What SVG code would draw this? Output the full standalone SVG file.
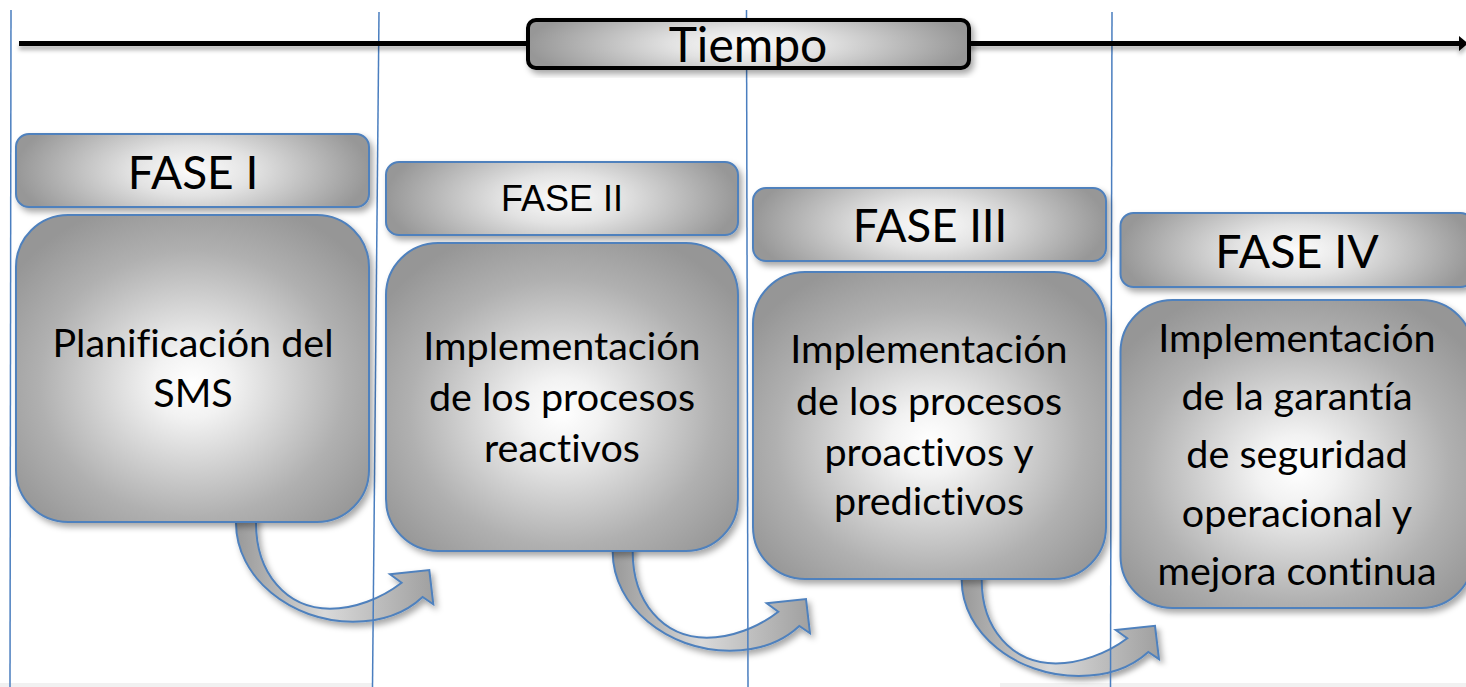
<svg xmlns="http://www.w3.org/2000/svg" width="1466" height="687" viewBox="0 0 1466 687">
<style>
.vline{stroke:#4a7ebf;stroke-width:1.5;fill:none}
.hdr{fill:url(#hdrGrad);stroke:#4f81bd;stroke-width:2;filter:url(#shadow)}
.body{fill:url(#bodyGrad);stroke:#4f81bd;stroke-width:2;filter:url(#shadow)}
.arw{fill:url(#arrowGrad);stroke:#4f81bd;stroke-width:2;stroke-linejoin:miter;filter:url(#shadow)}
.t{font-family:Lato,"Open Sans","Liberation Sans",sans-serif;fill:#000;text-anchor:middle;font-variant-ligatures:none;font-feature-settings:"liga" 0,"clig" 0}
.tb{font-size:39.5px}
.ta{font-family:"Liberation Sans",Arial,sans-serif;fill:#000;text-anchor:middle;font-size:36px}
</style>
<defs>
<filter id="shadow" x="-10%" y="-10%" width="125%" height="130%">
<feDropShadow dx="3" dy="4" stdDeviation="3" flood-color="#000" flood-opacity="0.35"/>
</filter>
<filter id="lshadow" filterUnits="userSpaceOnUse" x="0" y="30" width="1466" height="30">
<feDropShadow dx="0" dy="4" stdDeviation="2" flood-color="#000" flood-opacity="0.3"/>
</filter>
<radialGradient id="hdrGrad" cx="0.5" cy="0.5" r="0.5" gradientTransform="translate(0.5,0.5) scale(1,2) translate(-0.5,-0.5)">
<stop offset="0" stop-color="#fcfcfc"/>
<stop offset="0.35" stop-color="#e2e2e2"/>
<stop offset="1" stop-color="#979797"/>
</radialGradient>
<radialGradient id="bodyGrad" cx="0.5" cy="0.55" r="0.62">
<stop offset="0" stop-color="#ffffff"/>
<stop offset="0.18" stop-color="#f2f2f2"/>
<stop offset="0.7" stop-color="#b0b0b0"/>
<stop offset="1" stop-color="#969696"/>
</radialGradient>
<linearGradient id="arrowGrad" x1="0" y1="0" x2="1" y2="0">
<stop offset="0" stop-color="#999999"/>
<stop offset="0.45" stop-color="#d9d9d9"/>
<stop offset="1" stop-color="#a0a0a0"/>
</linearGradient>
<path id="curvArrow" d="M 0,-12 L 0,0 C 0,55 55,99 117,99 C 150,99 172,88 186.6,74.3 L 197.3,81.6 L 193.3,47.3 L 154,51.6 L 165.6,60 C 145,76 118,86 94,86 C 50,86 20,50 20,0 L 20,-12 Z"/>
</defs>

<rect x="0" y="0" width="1466" height="687" fill="#ffffff"/>
<rect x="0" y="683" width="372" height="4" fill="#f1f1f1"/>
<rect x="1000" y="683" width="466" height="4" fill="#f1f1f1"/>

<g id="connectors">
<use href="#curvArrow" class="arw" transform="translate(236,522.7)"/>
<use href="#curvArrow" class="arw" transform="translate(612.7,551.7)"/>
<use href="#curvArrow" class="arw" transform="translate(961.7,580) scale(1,0.97)"/>
</g>

<g id="lanes">
<line class="vline" x1="11" y1="10" x2="10" y2="687"/>
<line class="vline" x1="379" y1="12" x2="372.5" y2="687"/>
<line class="vline" x1="746.5" y1="10" x2="748" y2="687"/>
<line class="vline" x1="1112" y1="12" x2="1110.5" y2="687"/>
</g>

<g id="timeline" filter="url(#lshadow)">
<rect x="19" y="41" width="1443" height="5" fill="#000"/>
<polygon points="1459,36 1468,43.5 1459,51" fill="#000"/>
</g>

<g id="tiempo">
<rect x="528" y="20" width="441" height="48" rx="8" ry="8" fill="url(#hdrGrad)" stroke="#000" stroke-width="4" filter="url(#shadow)"/>
<text class="t" x="748" y="62" font-size="48">Tiempo</text>
</g>

<g id="fase1">
<rect class="hdr" x="16" y="134" width="353" height="73" rx="13" ry="13"/>
<text class="t" x="193" y="189" font-size="46">FASE I</text>
<rect class="body" x="16" y="215" width="353" height="307" rx="52" ry="52"/>
<text class="t tb" x="193" y="357">Planificación del</text>
<text class="t tb" x="193" y="407">SMS</text>
</g>

<g id="fase2">
<rect class="hdr" x="386" y="162" width="352" height="73" rx="13" ry="13"/>
<text class="ta" x="562" y="211">FASE II</text>
<rect class="body" x="386" y="243" width="352" height="308" rx="52" ry="52"/>
<text class="t tb" x="562" y="360">Implementación</text>
<text class="t tb" x="562" y="410.5">de los procesos</text>
<text class="t tb" x="562" y="461.5">reactivos</text>
</g>

<g id="fase3">
<rect class="hdr" x="753" y="188" width="353" height="73" rx="13" ry="13"/>
<text class="t" x="930" y="242" font-size="45.5">FASE III</text>
<rect class="body" x="753" y="272" width="353" height="307" rx="52" ry="52"/>
<text class="t tb" x="929" y="363">Implementación</text>
<text class="t tb" x="929" y="415">de los procesos</text>
<text class="t tb" x="929" y="466">proactivos y</text>
<text class="t tb" x="929" y="515">predictivos</text>
</g>

<g id="fase4">
<rect class="hdr" x="1120.5" y="213" width="353" height="74" rx="13" ry="13"/>
<text class="t" x="1297" y="268" font-size="46.5">FASE IV</text>
<rect class="body" x="1120.5" y="300" width="353" height="308" rx="52" ry="52"/>
<text class="t tb" x="1297" y="352">Implementación</text>
<text class="t tb" x="1297" y="409.5">de la garantía</text>
<text class="t tb" x="1297" y="468">de seguridad</text>
<text class="t tb" x="1297" y="527">operacional y</text>
<text class="t tb" x="1297" y="585">mejora continua</text>
</g>
</svg>
